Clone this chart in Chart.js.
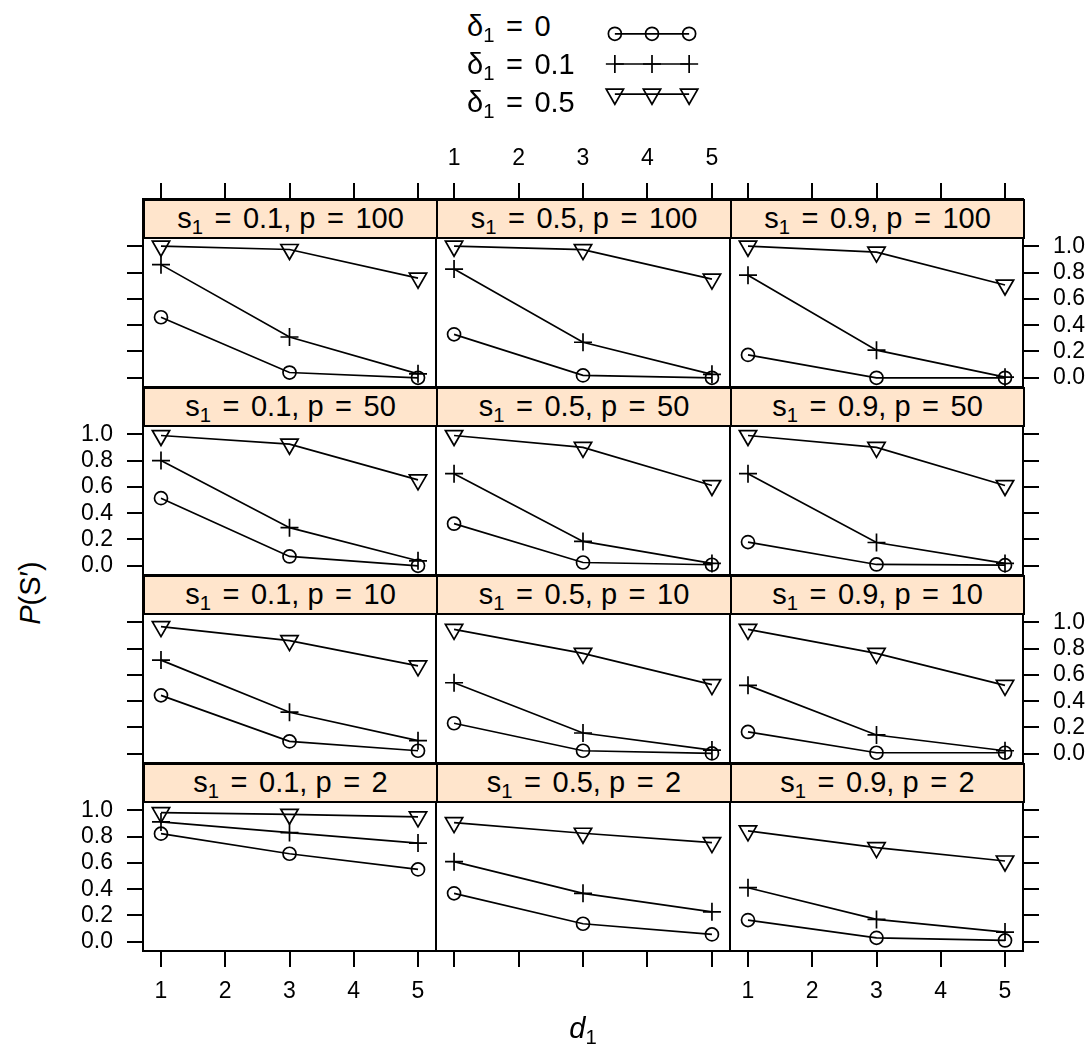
<!DOCTYPE html>
<html>
<head>
<meta charset="utf-8">
<script src="https://cdn.jsdelivr.net/npm/chart.js@4/dist/chart.umd.min.js"></script>
<style>
  body { margin: 0; background: #fff; font-family: "Liberation Sans", Arial, sans-serif; color: #000; }
  #page { position: relative; width: 1091px; height: 1057px; overflow: hidden; }
  #page canvas, .strip, .txt { position: absolute; }
  .strip { background: #ffe5cc; border: 2px solid #000; box-sizing: border-box;
           text-align: center; font-size: 29px; line-height: 34px; white-space: nowrap; }
  .sub { font-size: 0.7em; position: relative; top: 0.3em; }
  .eq { margin: 0 0.12em; }
  .txt { font-size: 29px; white-space: nowrap; }
</style>
</head>
<body>
<div id="page"></div>
<script>
// categorie-niveaus
const dValues = [1, 3, 5];
const s1Levels = ['0.1', '0.5', '0.9'];
const pLevels = ['100', '50', '10', '2'];
const deltaLevels = ['0', '0.1', '0.5'];
const xTicks = [1, 2, 3, 4, 5];
const yTicks = [0, 0.2, 0.4, 0.6, 0.8, 1.0];

// P(S') per paneel: [rij p][kolom s1][d1 = 1, 3, 5]
const pDelta0 = [
  [[0.46, 0.04, 0.0], [0.33, 0.018, 0.0], [0.174, 0.0, 0.0]],
  [[0.514, 0.071, 0.0], [0.32, 0.025, 0.008], [0.18, 0.01, 0.005]],
  [[0.444, 0.094, 0.023], [0.232, 0.023, 0.003], [0.166, 0.008, 0.008]],
  [[0.822, 0.669, 0.55], [0.368, 0.137, 0.056], [0.165, 0.03, 0.01]]
];
const pDelta01 = [
  [[0.86, 0.31, 0.03], [0.826, 0.27, 0.026], [0.78, 0.21, 0.005]],
  [[0.80, 0.29, 0.038], [0.70, 0.185, 0.018], [0.70, 0.177, 0.018]],
  [[0.712, 0.316, 0.10], [0.54, 0.158, 0.028], [0.52, 0.143, 0.023]],
  [[0.911, 0.83, 0.75], [0.609, 0.368, 0.228], [0.411, 0.17, 0.074]]
];
const pDelta05 = [
  [[1.0, 0.975, 0.757], [1.0, 0.974, 0.75], [1.0, 0.955, 0.705]],
  [[0.99, 0.924, 0.653], [0.99, 0.90, 0.61], [0.99, 0.90, 0.61]],
  [[0.967, 0.86, 0.668], [0.946, 0.763, 0.526], [0.946, 0.763, 0.52]],
  [[0.982, 0.969, 0.949], [0.906, 0.825, 0.754], [0.843, 0.716, 0.614]]
];
const series = [pDelta0, pDelta01, pDelta05];

// opmaak
const markerStyles = ['circle', 'cross', 'triangle'];
const markerSizes = [6.5, 9, 10];
const markerRotations = [0, 0, 180];
const FONT = '"Liberation Sans", Arial, sans-serif';
Chart.defaults.font.family = FONT;
Chart.defaults.color = '#000';

const page = document.getElementById('page');
const colX = [143, 436, 730, 1023];
const stripTops = [199, 387, 575, 763];
const stripH = 38, panelH = 150, M = 80;
const unitPx = panelH / 1.14;
const yMax = 1.07 + stripH / unitPx;   // strook valt binnen het chartgebied

function addCanvas(left, top, w, h) {
  const c = document.createElement('canvas');
  c.width = w; c.height = h;
  c.style.left = left + 'px'; c.style.top = top + 'px';
  c.style.width = w + 'px'; c.style.height = h + 'px';
  page.appendChild(c);
  return c;
}

function xAxis(pos, ticksOn, labelsOn) {
  return {
    type: 'linear', position: pos, min: 0.72, max: 5.28,
    afterBuildTicks: s => { s.ticks = xTicks.map(v => ({ value: v })); },
    afterFit: s => { s.height = M; },
    grid: { drawOnChartArea: false, drawTicks: ticksOn, tickLength: 16, color: '#000', lineWidth: 2 },
    border: { display: true, color: '#000', width: 2 },
    ticks: { display: labelsOn, font: { size: 23 }, padding: 11, maxRotation: 0, autoSkip: false,
             callback: v => String(v) }
  };
}

function yAxis(pos, ticksOn, labelsOn) {
  return {
    type: 'linear', position: pos, min: -0.07, max: yMax,
    afterBuildTicks: s => { s.ticks = yTicks.map(v => ({ value: v })); },
    afterFit: s => { s.width = M; },
    grid: { drawOnChartArea: false, drawTicks: ticksOn, tickLength: 16, color: '#000', lineWidth: 2 },
    border: { display: true, color: '#000', width: 2 },
    ticks: { display: labelsOn, font: { size: 23 }, padding: 14, autoSkip: false,
             callback: v => v.toFixed(1) }
  };
}

pLevels.forEach((p, r) => {
  s1Levels.forEach((s1, c) => {
    const w = colX[c + 1] - colX[c];
    const h = stripH + panelH;
    const cv = addCanvas(colX[c] - M, stripTops[r] - M, w + 2 * M, h + 2 * M);
    const datasets = series.map((arr, k) => ({
      label: 'δ1 = ' + deltaLevels[k],
      data: dValues.map((d, i) => ({ x: d, y: arr[r][c][i] })),
      borderColor: '#000', borderWidth: 1.7,
      pointStyle: markerStyles[k], pointRadius: markerSizes[k], pointRotation: markerRotations[k],
      pointBackgroundColor: 'rgba(0,0,0,0)', pointBorderColor: '#000', pointBorderWidth: 1.7,
      tension: 0, clip: false
    }));
    new Chart(cv, {
      type: 'line',
      data: { datasets },
      options: {
        responsive: false, animation: false, events: [],
        layout: { padding: 0 },
        plugins: { legend: { display: false }, tooltip: { enabled: false } },
        scales: {
          x: xAxis('bottom', r === 3, r === 3 && c !== 1),
          x2: xAxis('top', r === 0, r === 0 && c === 1),
          y: yAxis('left', c === 0, c === 0 && r % 2 === 1),
          y2: yAxis('right', c === 2, c === 2 && r % 2 === 0)
        }
      }
    });
  });
});

// strooktitels
pLevels.forEach((p, r) => {
  s1Levels.forEach((s1, c) => {
    const d = document.createElement('div');
    d.className = 'strip';
    d.style.left = colX[c] + 'px';
    d.style.top = stripTops[r] + 'px';
    d.style.width = (colX[c + 1] - colX[c] + 2) + 'px';
    d.style.height = (stripH + 2) + 'px';
    d.innerHTML = 's<span class="sub">1</span> <span class="eq">=</span> ' + s1 +
                  ', p <span class="eq">=</span> ' + p;
    page.appendChild(d);
  });
});

// legenda
deltaLevels.forEach((v, k) => {
  const t = document.createElement('div');
  t.className = 'txt';
  t.style.left = '467px';
  t.style.top = (7 + k * 38) + 'px';
  t.style.lineHeight = '38px';
  t.innerHTML = 'δ<span class="sub">1</span> <span class="eq">=</span> ' + v;
  page.appendChild(t);
});
const legendRows = [0, 1, 2];
const lg = addCanvas(585, 7, 134, 114);
new Chart(lg, {
  type: 'line',
  data: {
    datasets: legendRows.map(k => ({
      data: [1, 2, 3].map(x => ({ x: x, y: k })),
      borderColor: '#000', borderWidth: 1.7,
      pointStyle: markerStyles[k], pointRadius: markerSizes[k], pointRotation: markerRotations[k],
      pointBackgroundColor: 'rgba(0,0,0,0)', pointBorderColor: '#000', pointBorderWidth: 1.7,
      clip: false
    }))
  },
  options: {
    responsive: false, animation: false, events: [],
    layout: { padding: 0 },
    plugins: { legend: { display: false }, tooltip: { enabled: false } },
    scales: {
      x: { type: 'linear', display: false, min: 1 - 22 / 45, max: 3 + 22 / 45 },
      y: { type: 'linear', display: false, min: -0.5, max: 2.5, reverse: true }
    }
  }
});

// astitels
const yt = document.createElement('div');
yt.className = 'txt';
yt.style.left = '-70px'; yt.style.top = '576px'; yt.style.width = '200px';
yt.style.textAlign = 'center'; yt.style.lineHeight = '34px';
yt.style.transform = 'rotate(-90deg)';
yt.innerHTML = '<i>P</i>(S′)';
page.appendChild(yt);

const xt = document.createElement('div');
xt.className = 'txt';
xt.style.left = '483px'; xt.style.top = '1011px'; xt.style.width = '200px';
xt.style.textAlign = 'center'; xt.style.lineHeight = '34px';
xt.innerHTML = '<i>d</i><span class="sub">1</span>';
page.appendChild(xt);
</script>
</body>
</html>
